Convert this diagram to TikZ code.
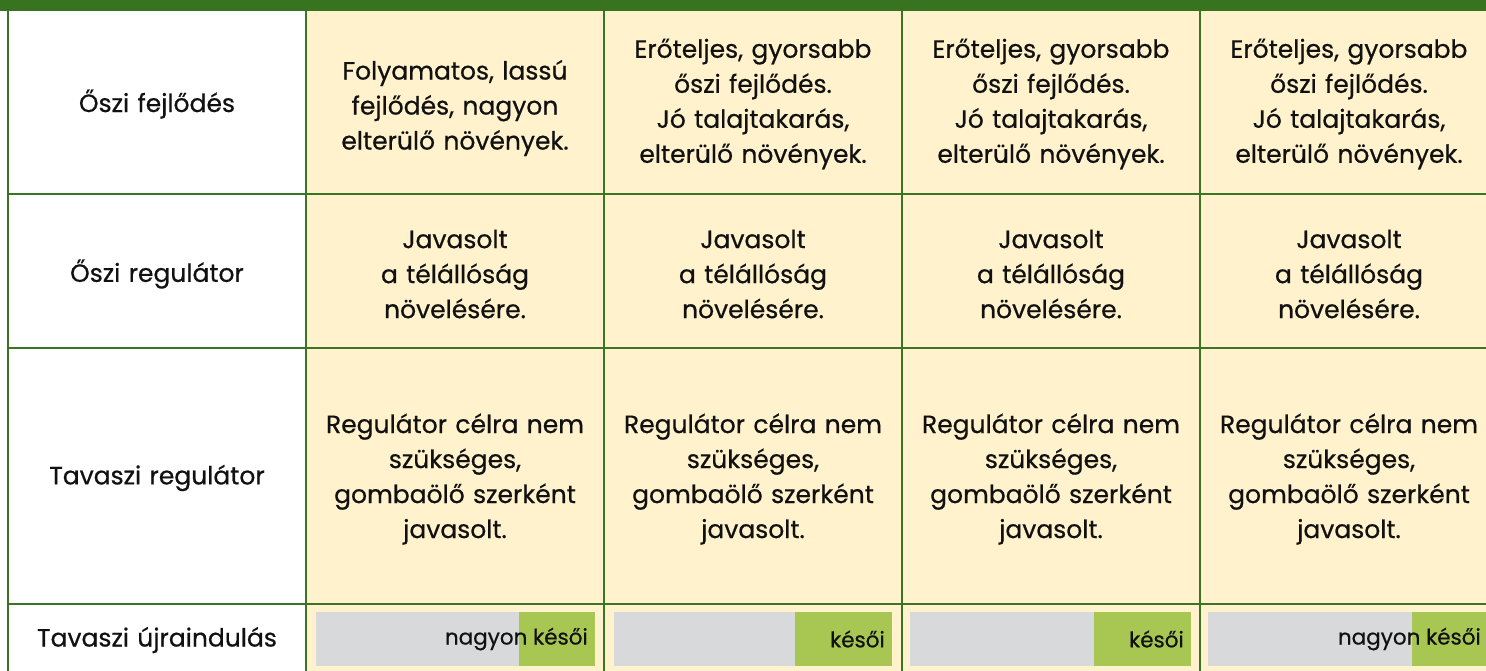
\documentclass[tikz,border=0pt]{standalone}
\usepackage{fontspec}
\setmainfont{Poppins}[FakeBold=0.6]
\definecolor{gline}{HTML}{3A7526}
\definecolor{gband}{HTML}{38731F}
\definecolor{cream}{HTML}{FFF2CC}
\definecolor{greybar}{HTML}{D8D9DB}
\definecolor{lime}{HTML}{A8C752}
\definecolor{ink}{HTML}{111111}
\tikzset{
  cell/.style={text width=290pt, align=center, font=\fontsize{25}{35}\selectfont, text=ink, inner sep=0pt},
  bartxt/.style={anchor=east, font=\fontsize{21.5}{24}\selectfont, text=ink, inner sep=0pt},
  gridline/.style={draw=gline, line width=2.8pt},
}
\begin{document}
\begin{tikzpicture}[x=1pt,y=-1pt]
\useasboundingbox (0,0) rectangle (1486,670);
\clip (0,0) rectangle (1486,670);
\fill[white] (0,0) rectangle (1486,670);
% cream cells
\fill[cream] (306,11) rectangle (1498,680);
% top band
\fill[gband] (0,0) rectangle (1486,11);
% row 1
\node[cell] (l1) at (157,104) {Őszi fejlődés};
\node[cell] (a1) at (455,108) {Folyamatos, lassú\\fejlődés, nagyon\\elterülő növények.};
\node[cell] (b1) at (753,104) {Erőteljes, gyorsabb\\őszi fejlődés.\\Jó talajtakarás,\\elterülő növények.};
\node[cell] (c1) at (1051,104) {Erőteljes, gyorsabb\\őszi fejlődés.\\Jó talajtakarás,\\elterülő növények.};
\node[cell] (d1) at (1349,104) {Erőteljes, gyorsabb\\őszi fejlődés.\\Jó talajtakarás,\\elterülő növények.};
% row 2
\node[cell] (l2) at (157,274) {Őszi regulátor};
\node[cell] (a2) at (455,274) {Javasolt\\a télállóság\\növelésére.};
\node[cell] (b2) at (753,274) {Javasolt\\a télállóság\\növelésére.};
\node[cell] (c2) at (1051,274) {Javasolt\\a télállóság\\növelésére.};
\node[cell] (d2) at (1349,274) {Javasolt\\a télállóság\\növelésére.};
% row 3
\node[cell] (l3) at (157,478) {Tavaszi regulátor};
\node[cell] (a3) at (455,479) {Regulátor célra nem\\szükséges,\\gombaölő szerként\\javasolt.};
\node[cell] (b3) at (753,479) {Regulátor célra nem\\szükséges,\\gombaölő szerként\\javasolt.};
\node[cell] (c3) at (1051,479) {Regulátor célra nem\\szükséges,\\gombaölő szerként\\javasolt.};
\node[cell] (d3) at (1349,479) {Regulátor célra nem\\szükséges,\\gombaölő szerként\\javasolt.};
% row 4
\node[cell] (l4) at (157,640) {Tavaszi újraindulás};
\fill[greybar] (316,612) rectangle (595,666);
\fill[lime] (519,612) rectangle (595,666);
\node[bartxt] (t1) at (588,639) {nagyon késői};
\fill[greybar] (614,612) rectangle (892,666);
\fill[lime] (795,612) rectangle (892,666);
\node[bartxt] (t2) at (885,639) {késői};
\fill[greybar] (910,612) rectangle (1191,666);
\fill[lime] (1094,612) rectangle (1191,666);
\node[bartxt] (t3) at (1184,639) {késői};
\fill[greybar] (1208,612) rectangle (1490,666);
\fill[lime] (1412,612) rectangle (1490,666);
\node[bartxt] (t4) at (1481,639) {nagyon késői};
% grid
\draw[gridline] (8,11) -- (8,680);
\foreach \x in {306,604,902,1200} {\draw[gridline] (\x,11) -- (\x,680);}
\foreach \y in {194,348,604} {\draw[gridline] (8,\y) -- (1498,\y);}
\end{tikzpicture}
\end{document}
